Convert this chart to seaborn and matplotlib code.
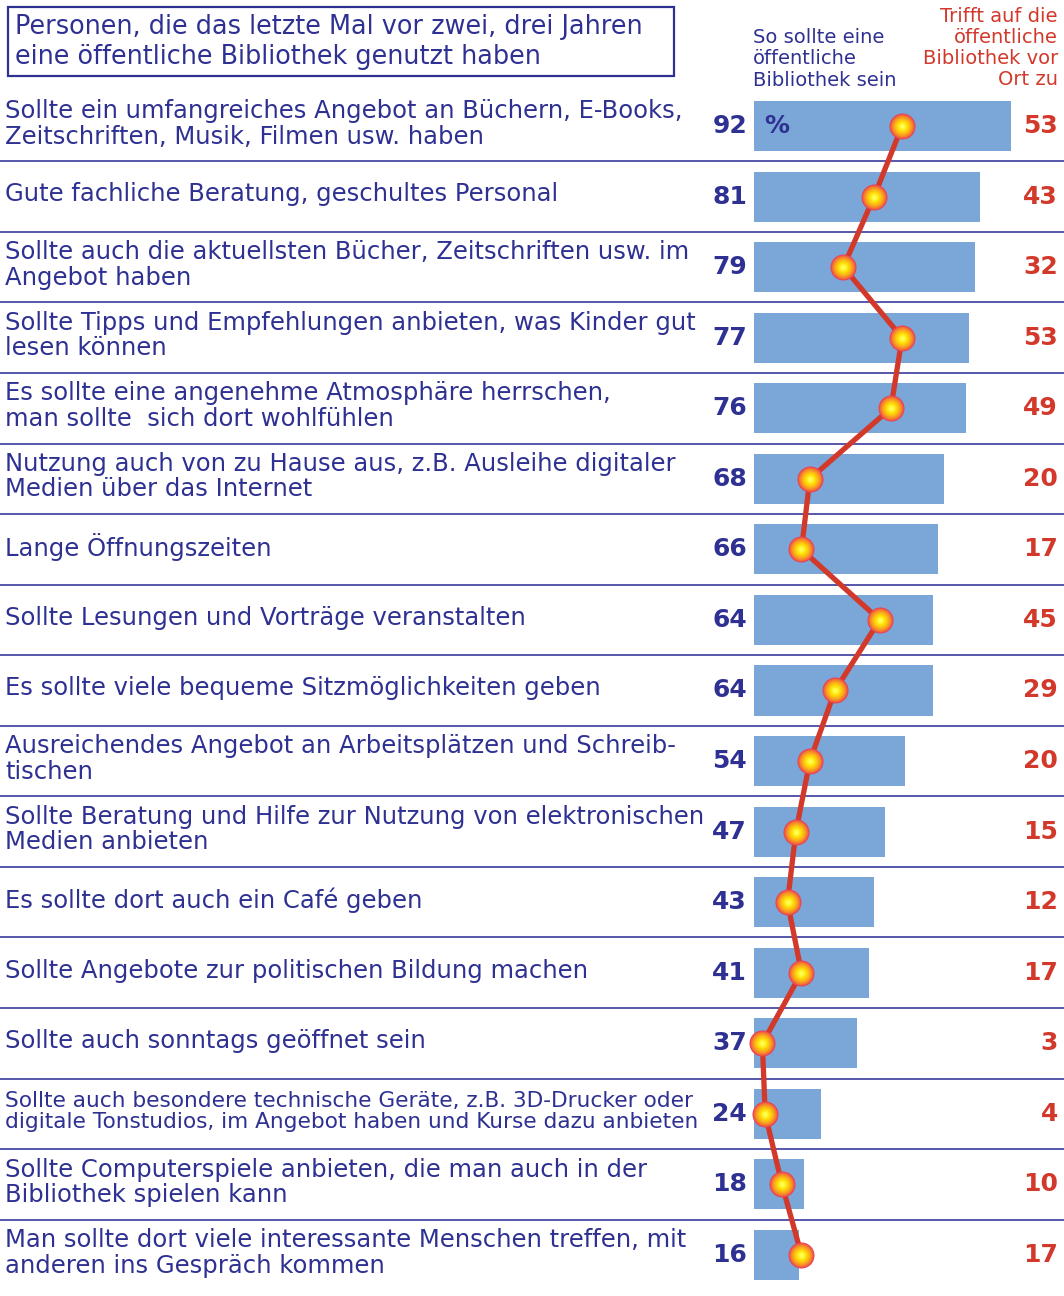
import numpy as np
import pandas as pd
import seaborn as sns
import matplotlib.pyplot as plt
from matplotlib.patches import Rectangle
from matplotlib.colors import LinearSegmentedColormap

## data
labels = [
    "Sollte ein umfangreiches Angebot an Büchern, E-Books,\nZeitschriften, Musik, Filmen usw. haben",
    "Gute fachliche Beratung, geschultes Personal",
    "Sollte auch die aktuellsten Bücher, Zeitschriften usw. im\nAngebot haben",
    "Sollte Tipps und Empfehlungen anbieten, was Kinder gut\nlesen können",
    "Es sollte eine angenehme Atmosphäre herrschen,\nman sollte  sich dort wohlfühlen",
    "Nutzung auch von zu Hause aus, z.B. Ausleihe digitaler\nMedien über das Internet",
    "Lange Öffnungszeiten",
    "Sollte Lesungen und Vorträge veranstalten",
    "Es sollte viele bequeme Sitzmöglichkeiten geben",
    "Ausreichendes Angebot an Arbeitsplätzen und Schreib-\ntischen",
    "Sollte Beratung und Hilfe zur Nutzung von elektronischen\nMedien anbieten",
    "Es sollte dort auch ein Café geben",
    "Sollte Angebote zur politischen Bildung machen",
    "Sollte auch sonntags geöffnet sein",
    "Sollte auch besondere technische Geräte, z.B. 3D-Drucker oder\ndigitale Tonstudios, im Angebot haben und Kurse dazu anbieten",
    "Sollte Computerspiele anbieten, die man auch in der\nBibliothek spielen kann",
    "Man sollte dort viele interessante Menschen treffen, mit\nanderen ins Gespräch kommen",
]
soll = [92, 81, 79, 77, 76, 68, 66, 64, 64, 54, 47, 43, 41, 37, 24, 18, 16]
trifft = [53, 43, 32, 53, 49, 20, 17, 45, 29, 20, 15, 12, 17, 3, 4, 10, 17]

title = "Personen, die das letzte Mal vor zwei, drei Jahren\neine öffentliche Bibliothek genutzt haben"
head_left = "So sollte eine\nöffentliche\nBibliothek sein"
head_right = "Trifft auf die\nöffentliche\nBibliothek vor\nOrt zu"

df = pd.DataFrame({"label": labels, "soll": soll, "trifft": trifft, "row": range(len(labels))})

## colours
navy = "#2e3192"
red = "#d2392b"
bar_col = "#7ba6d8"
sep_col = "#4a4aa6"

plt.rcParams['font.family'] = ['DejaVu Sans']

fig = plt.figure(figsize=(10.64, 12.96), dpi=100)
ax = fig.add_axes([0, 0, 1, 1])

sns.barplot(data=df, x="soll", y="label", order=labels, orient="h",
            color=bar_col, width=0.71, saturation=1, ax=ax, zorder=2)

# pixel mapping: bars start at x=754, 2.793 px per percent; rows 70.56 px apart
scale = 257 / 92
ax.set_xlim(-754 / scale, (1064 - 754) / scale)
ax.set_ylim((1296 - 126) / 70.56, -126 / 70.56)
ax.axis("off")

# red line
sns.lineplot(data=df, x="trifft", y="row", orient="y", sort=False, estimator=None,
             color=red, lw=3.8, ax=ax, zorder=3)

# glossy markers: layered circles red edge -> yellow centre
cmap = LinearSegmentedColormap.from_list("ball", ["#e8405a", "#f4742f", "#fbaa20", "#ffdc00", "#ffff50"])
nlay = 12
for k in range(nlay):
    t = k / (nlay - 1)
    d = 26 * (1 - 0.85 * t)
    sns.scatterplot(data=df, x="trifft", y="row", s=d ** 2 * 0.52, color=cmap(t ** 0.75),
                    linewidth=0, ax=ax, zorder=4 + k, legend=False)

# separators
trans = ax.get_yaxis_transform()
for i in range(len(labels) - 1):
    ax.plot([0, 1], [i + 0.5, i + 0.5], transform=trans, color=sep_col, lw=1.3, zorder=1)

# texts
for i, (lab, s, t) in enumerate(zip(labels, soll, trifft)):
    fs = 15.6 if i == 14 else 17.5
    ax.text(5 / 1064, i - 0.03, lab, transform=trans, ha="left", va="center",
            fontsize=fs, color=navy, linespacing=1.07)
    ax.text(747 / 1064, i, str(s), transform=trans, ha="right", va="center",
            fontsize=18, fontweight="bold", color=navy)
    ax.text(1058 / 1064, i, str(t), transform=trans, ha="right", va="center",
            fontsize=18, fontweight="bold", color=red)

ax.text(764 / 1064, 0, "%", transform=trans, ha="left", va="center",
        fontsize=18, fontweight="bold", color=navy, zorder=20)

# header
fig.text(15 / 1064, 1 - 42 / 1296, title, ha="left", va="center",
         fontsize=18.4, color=navy, linespacing=1.16)
fig.patches.append(Rectangle((8 / 1064, 1 - 76 / 1296), 666 / 1064, 69 / 1296,
                             transform=fig.transFigure, fill=False, edgecolor=navy, lw=1.6))
fig.text(753 / 1064, 1 - 59 / 1296, head_left, ha="left", va="center",
         fontsize=14, color=navy, linespacing=1.15)
fig.text(1058 / 1064, 1 - 48 / 1296, head_right, ha="right", va="center",
         fontsize=14, color=red, linespacing=1.15, multialignment="right")

fig.savefig("out.png", dpi=100)
